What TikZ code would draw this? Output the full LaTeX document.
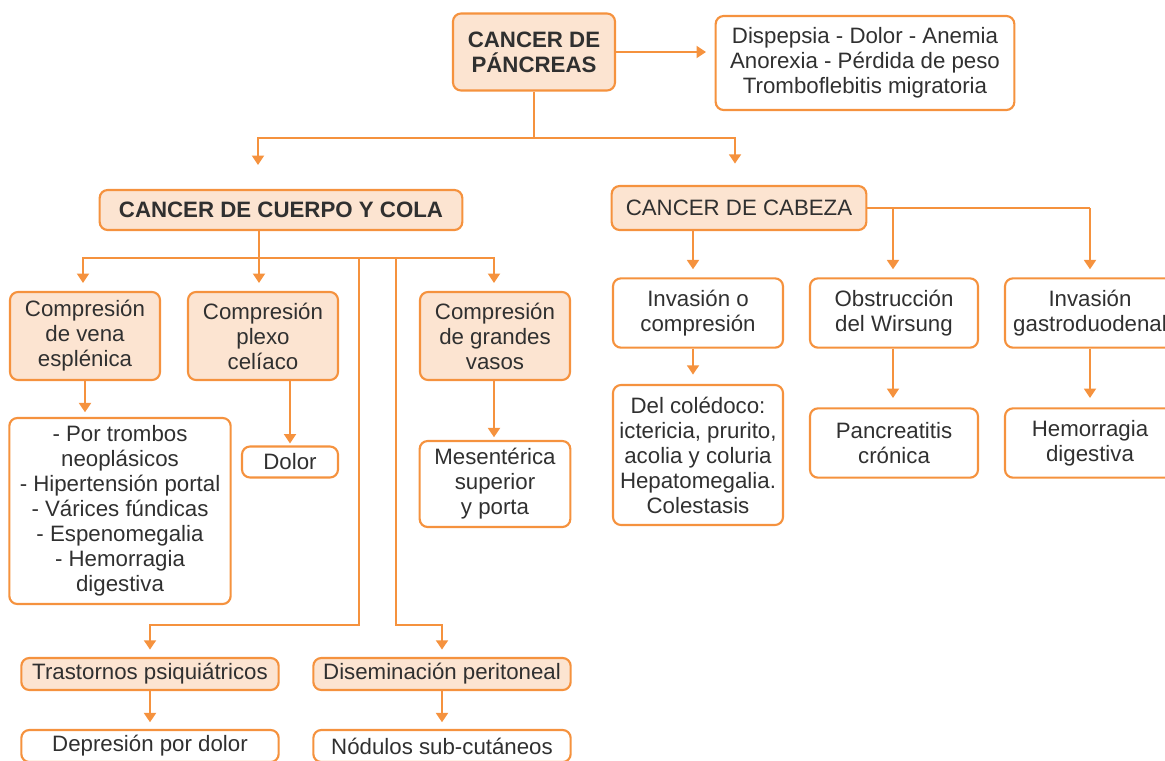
\documentclass[tikz,border=0pt]{standalone}
\usepackage{fontspec}
\setmainfont{Liberation Sans}
\usetikzlibrary{arrows.meta}
\definecolor{naranja}{HTML}{F5923E}
\definecolor{crema}{HTML}{FCE4D1}
\definecolor{texto}{HTML}{303030}
\newcommand\letra{\fontsize{16.7pt}{18.75pt}\selectfont}
\tikzset{
  caja/.style={draw=naranja, line width=1.6pt, rounded corners=6pt, align=center, inner sep=1pt, text=texto, font=\letra},
  cajaf/.style={caja, fill=crema},
  linea/.style={draw=naranja, line width=1.4pt},
  flecha/.style={linea, -{Triangle[width=9pt,length=7pt]}},
}
\begin{document}
\begin{tikzpicture}[x=0.75pt,y=-0.75pt]
    \useasboundingbox (0,0) rectangle (1165,761);
    \node [cajaf, font=\letra\bfseries, minimum width=121.5pt, minimum height=57.75pt] (pan) at (534,52) {CANCER DE\\PÁNCREAS};
    \node [caja, minimum width=224pt, minimum height=70.5pt] (sint) at (865,63) {Dispepsia - Dolor - Anemia\\Anorexia - Pérdida de peso\\Tromboflebitis migratoria};
    \node [cajaf, font=\letra\bfseries, minimum width=272pt, minimum height=30pt] (cuerpo) at (281,210) {CANCER DE CUERPO Y COLA};
    \node [cajaf, minimum width=191pt, minimum height=33pt] (cabeza) at (739,208) {CANCER DE CABEZA};
    \node [cajaf, minimum width=112.5pt, minimum height=66pt] (vena) at (85,336) {Compresión\\de vena\\esplénica};
    \node [cajaf, minimum width=112.5pt, minimum height=66pt] (plexo) at (263,336) {Compresión\\plexo\\celíaco};
    \node [cajaf, minimum width=112.5pt, minimum height=66pt] (vasos) at (495,336) {Compresión\\de grandes\\vasos};
    \node [caja, minimum width=166pt, minimum height=139.5pt] (trombos) at (120,511) {- Por trombos\\neoplásicos\\- Hipertensión portal\\- Várices fúndicas\\- Espenomegalia\\- Hemorragia\\digestiva};
    \node [caja, minimum width=72pt, minimum height=23.25pt] (dolor) at (290,462) {Dolor};
    \node [caja, minimum width=113pt, minimum height=64.5pt] (mesent) at (495,484) {Mesentérica\\superior\\y porta};
    \node [cajaf, minimum width=193pt, minimum height=24pt] (trast) at (150,674) {Trastornos psiquiátricos};
    \node [cajaf, minimum width=193pt, minimum height=24pt] (disem) at (442,674) {Diseminación peritoneal};
    \node [caja, minimum width=193pt, minimum height=24pt] (depre) at (150,746) {Depresión por dolor};
    \node [caja, minimum width=193pt, minimum height=24pt] (nodul) at (442,746) {Nódulos sub-cutáneos};
    \node [caja, minimum width=127.5pt, minimum height=52pt] (invas) at (698,313) {Invasión o\\compresión};
    \node [caja, minimum width=127.5pt, minimum height=105pt] (coled) at (698,455) {Del colédoco:\\ictericia, prurito,\\acolia y coluria\\Hepatomegalia.\\Colestasis};
    \node [caja, minimum width=126pt, minimum height=52pt] (obstr) at (894,313) {Obstrucción\\del Wirsung};
    \node [caja, minimum width=126pt, minimum height=52pt] (pancr) at (894,443) {Pancreatitis\\crónica};
    \node [caja, minimum width=127.5pt, minimum height=52pt] (gastro) at (1090,313) {Invasión\\gastroduodenal};
    \node [caja, minimum width=127.5pt, minimum height=52pt] (hemor) at (1090,443) {Hemorragia\\digestiva};
    \coordinate (b1) at (534,138);
    \coordinate (b2) at (259,258);
    \coordinate (b3) at (359,258);
    \coordinate (b4) at (396,258);
    \coordinate (c1) at (893,208);
    \coordinate (c2) at (1090,208);
    \draw [flecha, shorten >=6.5pt] (pan.east) -- (sint.west |- pan.east);
    \draw [flecha, shorten >=18pt] (pan.south) -- (b1) -| ([shift={(-23,0)}]cuerpo.north);
    \draw [flecha, shorten >=16pt] (b1) -| ([shift={(-4,0)}]cabeza.north);
    \draw [linea] ([shift={(-22,0)}]cuerpo.south) -- (b2);
    \draw [flecha, shorten >=6pt] (b2) -| ([shift={(-2,0)}]vena.north);
    \draw [flecha, shorten >=6pt] (b2) -- ([shift={(-4,0)}]plexo.north);
    \draw [flecha, shorten >=6pt] (b2) -| ([shift={(-1,0)}]vasos.north);
    \draw [flecha, shorten >=5.5pt] (b3) -- (359,625) -| (trast.north);
    \draw [flecha, shorten >=5.5pt] (b4) -- (396,625) -| (disem.north);
    \draw [flecha, shorten >=3.5pt] (vena.south) -- (trombos.north -| vena.south);
    \draw [flecha, shorten >=1.5pt] ([shift={(27,0)}]plexo.south) -- (dolor.north);
    \draw [flecha, shorten >=2pt] ([shift={(-1,0)}]vasos.south) -- ([shift={(-1,0)}]mesent.north);
    \draw [flecha, shorten >=5pt] (trast.south) -- (depre.north);
    \draw [flecha, shorten >=5pt] (disem.south) -- (nodul.north);
    \draw [flecha, shorten >=6pt] ([shift={(-46,0)}]cabeza.south) -- ([shift={(-5,0)}]invas.north);
    \draw [linea] (cabeza.east) -- (c2);
    \draw [flecha, shorten >=6pt] (c1) -- (obstr.north -| c1);
    \draw [flecha, shorten >=6pt] (c2) -- (gastro.north);
    \draw [flecha, shorten >=7pt] ([shift={(-5,0)}]invas.south) -- ([shift={(-5,0)}]coled.north);
    \draw [flecha, shorten >=7pt] ([shift={(-1,0)}]obstr.south) -- ([shift={(-1,0)}]pancr.north);
    \draw [flecha, shorten >=7pt] (gastro.south) -- (hemor.north);
\end{tikzpicture}
\end{document}
